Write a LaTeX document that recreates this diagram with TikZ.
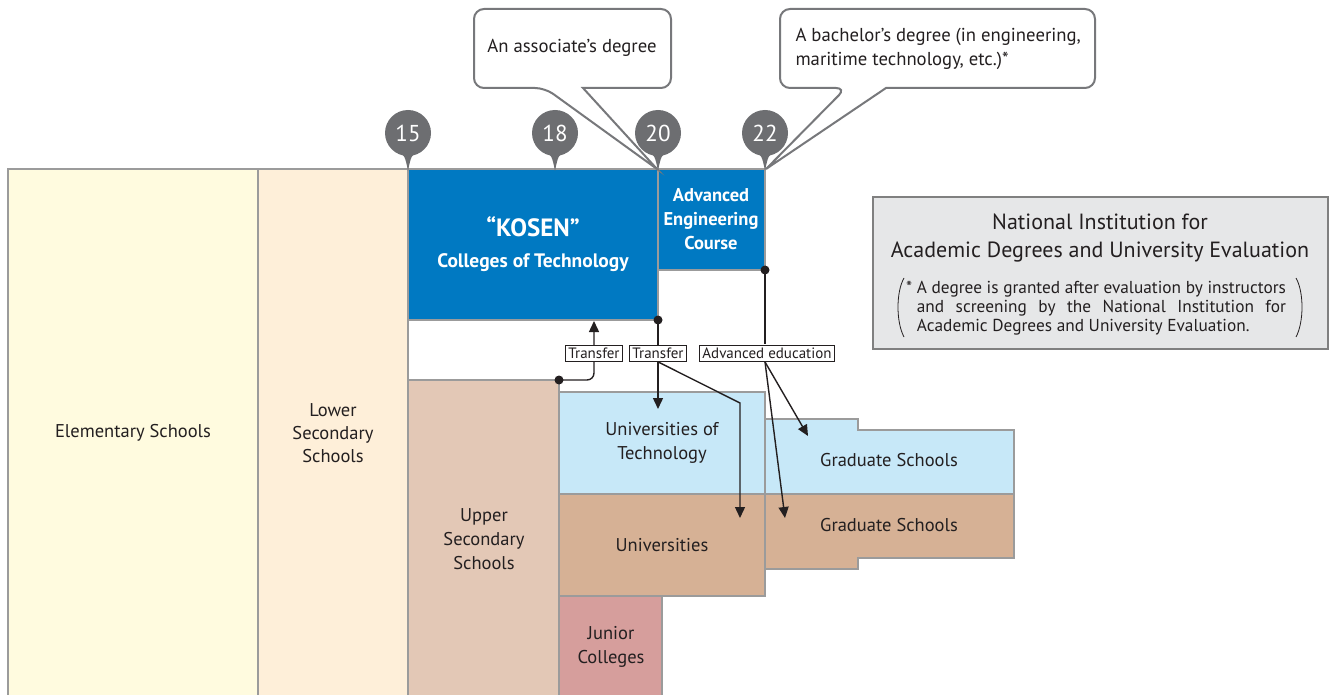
\documentclass[tikz,border=0pt]{standalone}
\usepackage{fontspec}
\setmainfont{PT Sans}
\usetikzlibrary{arrows.meta}
\definecolor{ink}{HTML}{231F20}
\definecolor{edgegray}{HTML}{9B9B9B}
\definecolor{elemfill}{HTML}{FFFBDF}
\definecolor{lowerfill}{HTML}{FEEFD9}
\definecolor{kosenblue}{HTML}{0079C2}
\definecolor{upperfill}{HTML}{E3C8B6}
\definecolor{techfill}{HTML}{C7E8F8}
\definecolor{unifill}{HTML}{D6B195}
\definecolor{juniorfill}{HTML}{D69E9C}
\definecolor{pingray}{HTML}{6D6E71}
\definecolor{calloutgray}{HTML}{77787B}
\definecolor{niadfill}{HTML}{E6E7E8}
\definecolor{niadedge}{HTML}{808080}
\newlength\notew
\tikzset{
  stage/.style={draw=edgegray, line width=2.5pt},
  lbl/.style={font=\fontsize{18.5}{24}\selectfont, text=ink, align=center},
  blbl/.style={font=\bfseries\fontsize{18.5}{24}\selectfont, text=white, align=center},
  callout/.style={draw=calloutgray, fill=white, line width=2pt},
  ctext/.style={font=\fontsize{18.7}{24}\selectfont, text=ink, align=left},
  tag/.style={draw=ink, fill=white, line width=1pt, inner xsep=2.5pt, inner ysep=2.5pt,
    font=\fontsize{15}{16}\selectfont, text=ink},
  conn/.style={draw=ink, line width=1.4pt},
  tip/.style={-{Triangle[length=11pt,width=10pt]}},
  agepin/.style={fill=pingray},
}
\begin{document}
\begin{tikzpicture}[x=1pt,y=-1pt]
\useasboundingbox (0,0) rectangle (1331,695);

% school stages
\path[stage, fill=elemfill]  (8,169) rectangle (258,712);
\path[stage, fill=lowerfill] (258,169) rectangle (408,712);
\path[stage, fill=kosenblue] (408,169) rectangle (658,320);
\path[stage, fill=kosenblue] (658,169) rectangle (765,270);
\path[stage, fill=upperfill] (408,380) rectangle (559,712);
\path[stage, fill=techfill]  (559,392) rectangle (765,494);
\path[stage, fill=unifill]   (559,494) rectangle (765,596);
\path[stage, fill=juniorfill](559,596) rectangle (662,712);
\path[stage, fill=techfill]  (765,419) -- (858,419) -- (858,430) -- (1014,430)
  -- (1014,494) -- (765,494) -- cycle;
\path[stage, fill=unifill]   (765,494) -- (1014,494) -- (1014,558) -- (858,558)
  -- (858,569) -- (765,569) -- cycle;

% stage labels
\node[lbl] (elem) at (133,433) {Elementary Schools};
\node[lbl, font=\fontsize{18.5}{23}\selectfont] (lower) at (333,433) {Lower\\Secondary\\Schools};
\node[lbl] (upper) at (484,539) {Upper\\Secondary\\Schools};
\node[lbl] (tech) at (662,442.5) {Universities of\\Technology};
\node[lbl] (uni) at (662,545) {Universities};
\node[lbl] (junior) at (611,647) {Junior\\Colleges};
\node[lbl] (gradA) at (889,460) {Graduate Schools};
\node[lbl] (gradB) at (889,525) {Graduate Schools};
\node[text=white, align=center, font=\bfseries\fontsize{19.5}{31}\selectfont] (kosen)
  at (533,244) {{\fontsize{25}{31}\selectfont “KOSEN”}\\Colleges of Technology};
\node[blbl] (aec) at (711,219) {Advanced\\Engineering\\Course};

% age pins
\foreach \x/\a in {408/15,555/18,658/20,765/22}{
  \fill[agepin] (\x-12,148) .. controls (\x-3,156) .. (\x,171)
    .. controls (\x+3,156) .. (\x+12,148) -- cycle;
  \fill[agepin] (\x,133) circle (23);
  \node[font=\fontsize{23}{24}\selectfont, text=white] (age\a) at (\x,133) {\a};
}

% degree callouts
\draw[callout] (572,9) [rounded corners=10] -- (474,9) -- (474,88) -- (545,88)
  [sharp corners] -- (657,169) -- (583,88) [rounded corners=10] -- (671,88)
  -- (671,9) -- cycle;
\node[ctext] (assoc) at (572,48) {An associate’s degree};
\draw[callout] (938,9) [rounded corners=10] -- (780,9) -- (780,88) -- (846,88)
  [sharp corners] -- (766,169) -- (886,88) [rounded corners=10] -- (1095,88)
  -- (1095,9) -- cycle;
\node[ctext, anchor=west] (bach) at (792,49)
  {A bachelor’s degree (in engineering,\\maritime technology, etc.)*};

% evaluating institution
\node[draw=niadedge, fill=niadfill, line width=2pt, minimum width=455pt,
  minimum height=152pt] (niad) at (1100.5,273) {};
\node[font=\fontsize{22}{28}\selectfont, text=ink, align=center] (niadtitle)
  at (1100,238) {National Institution for\\Academic Degrees and University Evaluation};
\node[font=\fontsize{17.3}{19}\selectfont, text=ink, align=left, anchor=west,
  inner sep=0pt] (niadnote) at (906,308)
  {\settowidth{\notew}{A degree is granted after evaluation by instructors}%
   \global\notew=\notew
   * A degree is granted after evaluation by instructors\\
   \phantom{*\ }\makebox[\notew][s]{and screening by the National Institution for}\\
   \phantom{*\ }Academic Degrees and University Evaluation.};
\draw[ink, line width=0.8pt] (904,278) .. controls (896,292) and (896,322) .. (904,337);
\draw[ink, line width=0.8pt] (1296,278) .. controls (1304,292) and (1304,322) .. (1296,337);

% connector end points
\coordinate (upperNE) at (559,380);
\coordinate (kosenSE) at (658,320);
\coordinate (aecSE) at (765,270);
\coordinate (kosenIn) at (594,321);
\coordinate (techIn) at (658,409);
\coordinate (bend) at (740,403);
\coordinate (uniIn) at (740,518);
\coordinate (gradAIn) at (808,436);
\coordinate (gradBIn) at (785,518);

% transfer and advanced education routes
\draw[conn, tip, rounded corners=7] (upperNE) -| (kosenIn);
\draw[conn, tip] (kosenSE) -- (techIn);
\node[tag] (transUp) at (594,353.5) {Transfer};
\node[tag] (transDown) at (658,353.5) {Transfer};
\draw[conn, tip] (transDown.south) -- (bend) -- (uniIn);
\draw[conn] (aecSE) -- (aecSE |- 0,344);
\node[tag] (adved) at (767,353.5) {Advanced education};
\draw[conn, tip] (adved.south -| aecSE) -- (gradAIn);
\draw[conn, tip] (adved.south -| aecSE) -- (gradBIn);
\fill[ink] (upperNE) circle (4.5) (kosenSE) circle (4.5) (aecSE) circle (4.5);
\end{tikzpicture}
\end{document}
